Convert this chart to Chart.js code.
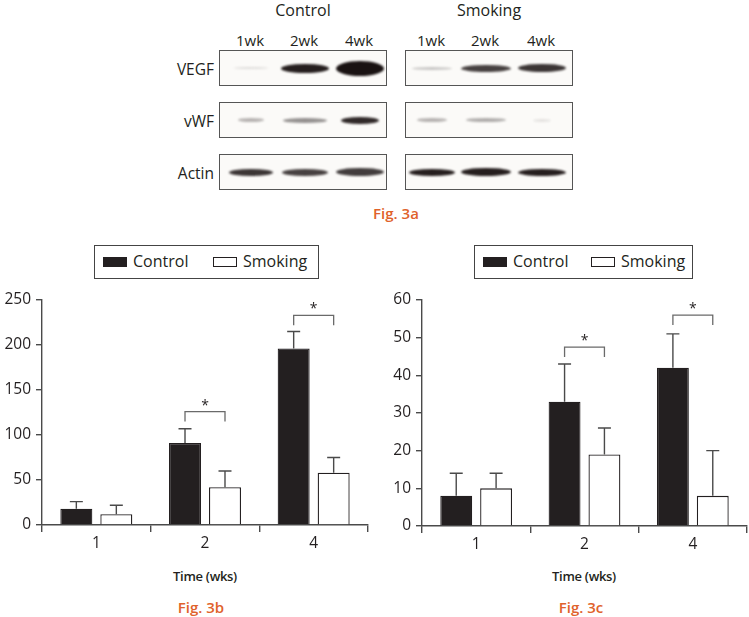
<!DOCTYPE html>
<html><head><meta charset="utf-8">
<script src="https://cdn.jsdelivr.net/npm/chart.js@4.4.1/dist/chart.umd.min.js"></script>
<style>
html,body{margin:0;padding:0;background:#fff;}
body{width:749px;height:617px;position:relative;overflow:hidden;font-family:"Open Sans",sans-serif;color:#231f20;}
.abs{position:absolute;}
.panel{position:absolute;border:1.4px solid #555;background:#fbfaf8;box-sizing:border-box;overflow:hidden;}
.band{position:absolute;border-radius:50%;filter:blur(1.3px);}
.lbl{position:absolute;white-space:nowrap;transform:translate(-50%,-50%);}
.legend{position:absolute;border:1.3px solid #444;box-sizing:border-box;}
.sw{position:absolute;width:24px;height:10px;box-sizing:border-box;border:1.2px solid #231f20;}
.lt{position:absolute;font-size:16px;line-height:16px;}
.fig{position:absolute;transform:translate(-50%,-50%);color:#e0622b;font-weight:600;font-size:15px;white-space:nowrap;}
.xt{position:absolute;transform:translate(-50%,-50%);font-weight:600;font-size:13px;white-space:nowrap;color:#231f20;letter-spacing:-0.3px;}
canvas{position:absolute;}
</style>
</head><body>
<div id="blots"></div>
<div class="fig" style="left:396px;top:213px;">Fig. 3a</div>

<div class="legend" style="left:94px;top:245px;width:225px;height:34px;"></div>
<div class="sw" style="left:103px;top:257px;background:#231f20;"></div>
<div class="lt" style="left:133px;top:253px;">Control</div>
<div class="sw" style="left:213px;top:257px;background:#fff;"></div>
<div class="lt" style="left:243px;top:253px;">Smoking</div>

<div class="legend" style="left:474px;top:245px;width:219px;height:34px;"></div>
<div class="sw" style="left:483px;top:257px;background:#231f20;"></div>
<div class="lt" style="left:513px;top:253px;">Control</div>
<div class="sw" style="left:591px;top:257px;background:#fff;"></div>
<div class="lt" style="left:621px;top:253px;">Smoking</div>

<canvas id="cb" width="372" height="270" style="left:0;top:285px;"></canvas>
<canvas id="cc" width="369" height="271" style="left:380px;top:285px;"></canvas>

<div class="xt" style="left:205px;top:576px;">Time (wks)</div>
<div class="fig" style="left:201px;top:607px;">Fig. 3b</div>
<div class="xt" style="left:584px;top:576px;">Time (wks)</div>
<div class="fig" style="left:581px;top:607px;">Fig. 3c</div>

<script>
// ---- Data ----
const categories = ['1', '2', '4'];
const seriesNames = ['Control', 'Smoking'];

const b_control = [18, 91, 196];
const b_controlErr = [8, 16, 19];
const b_smoking = [12, 42, 58];
const b_smokingErr = [10, 18, 17];
const b_sig = [null, 126, 233];
const b_ticks = [0, 50, 100, 150, 200, 250];

const c_control = [8, 33, 42];
const c_controlErr = [6, 10, 9];
const c_smoking = [10, 19, 8];
const c_smokingErr = [4, 7, 12];
const c_sig = [null, 47.5, 56];
const c_ticks = [0, 10, 20, 30, 40, 50, 60];

// Western blot (Fig. 3a) band intensities
const blotRows = ['VEGF', 'vWF', 'Actin'];
const blotLanes = ['1wk', '2wk', '4wk'];
const blotGroups = ['Control', 'Smoking'];
const blotControl = [[0.12, 0.95, 1.0], [0.3, 0.45, 0.9], [0.85, 0.8, 0.82]];
const blotSmoking = [[0.22, 0.8, 0.85], [0.3, 0.33, 0.1], [0.95, 0.95, 0.95]];

// ---- Blot drawing (decorative image part) ----
(function () {
  const root = document.getElementById('blots');
  const panelX = [219, 405], panelW = [168, 168];
  const rowY = [50, 102, 154], rowH = 36;
  const laneX = [[31, 85, 140], [26, 80, 136]];
  const bandW = [[[34, 48, 48], [26, 44, 38], [44, 46, 48]], [[40, 50, 48], [30, 40, 18], [46, 50, 48]]];
  const bandH = [[[2, 9, 15], [4, 5, 7], [7, 7, 8]], [[3, 7, 8], [4, 4, 3], [7, 8, 7]]];
  const data = [blotControl, blotSmoking];
  let html = '';
  blotGroups.forEach((g, gi) => {
    html += `<div class="lbl" style="left:${panelX[gi] + 84}px;top:10px;font-size:16px;">${g}</div>`;
    blotLanes.forEach((l, li) => {
      html += `<div class="lbl" style="left:${panelX[gi] + laneX[gi][li]}px;top:40px;font-size:15px;">${l}</div>`;
    });
    blotRows.forEach((r, ri) => {
      let inner = '';
      blotLanes.forEach((l, li) => {
        const w = bandW[gi][ri][li], h = bandH[gi][ri][li];
        const a = data[gi][ri][li];
        inner += `<div class="band" style="left:${laneX[gi][li] - w / 2}px;top:${rowH / 2 - h / 2 - 1}px;width:${w}px;height:${h}px;background:rgba(25,18,18,${a});"></div>`;
      });
      html += `<div class="panel" style="left:${panelX[gi]}px;top:${rowY[ri]}px;width:${panelW[gi]}px;height:${rowH}px;">${inner}</div>`;
    });
  });
  blotRows.forEach((r, ri) => {
    html += `<div class="abs" style="right:${749 - 214}px;top:${rowY[ri] + 8}px;font-size:15.5px;">${r}</div>`;
  });
  root.innerHTML = html;
})();

// ---- Charts ----
const ink = '#231f20';
const axisCol = '#4a4a4a';

const errorBarPlugin = {
  id: 'errbars',
  afterDatasetsDraw(chart, args, opts) {
    const ctx = chart.ctx, y = chart.scales.y;
    ctx.save();
    ctx.strokeStyle = axisCol;
    ctx.lineWidth = 1.4;
    chart.data.datasets.forEach((ds, di) => {
      const meta = chart.getDatasetMeta(di);
      meta.data.forEach((el, i) => {
        const top = y.getPixelForValue(ds.data[i] + ds.errors[i]);
        ctx.beginPath();
        ctx.moveTo(el.x, el.y);
        ctx.lineTo(el.x, top);
        ctx.moveTo(el.x - 6.5, top);
        ctx.lineTo(el.x + 6.5, top);
        ctx.stroke();
      });
    });
    // significance brackets
    const sig = opts.sig || [];
    const m0 = chart.getDatasetMeta(0), m1 = chart.getDatasetMeta(1);
    sig.forEach((v, i) => {
      if (v == null) return;
      const py = y.getPixelForValue(v);
      const x0 = m0.data[i].x, x1 = m1.data[i].x;
      ctx.strokeStyle = '#6a6a6a';
      ctx.lineWidth = 1.3;
      ctx.beginPath();
      ctx.moveTo(x0, py + 10);
      ctx.lineTo(x0, py);
      ctx.lineTo(x1, py);
      ctx.lineTo(x1, py + 10);
      ctx.stroke();
      ctx.fillStyle = ink;
      ctx.font = '14px "Open Sans"';
      ctx.textAlign = 'center';
      ctx.textBaseline = 'middle';
      ctx.fillText('*', (x0 + x1) / 2, py - 6);
    });
    ctx.restore();
  }
};

function makeChart(id, control, controlErr, smoking, smokingErr, sig, ticks, padRight) {
  const maxV = ticks[ticks.length - 1];
  const step = ticks[1] - ticks[0];
  return new Chart(document.getElementById(id), {
    type: 'bar',
    data: {
      labels: categories,
      datasets: [
        { label: seriesNames[0], data: control, errors: controlErr, backgroundColor: ink, borderColor: ink, borderWidth: 1.2 },
        { label: seriesNames[1], data: smoking, errors: smokingErr, backgroundColor: '#ffffff', borderColor: ink, borderWidth: 1.3 }
      ]
    },
    plugins: [errorBarPlugin],
    options: {
      responsive: false,
      animation: false,
      devicePixelRatio: 1,
      categoryPercentage: 0.736,
      barPercentage: 0.8,
      layout: { padding: { top: 15, right: padRight, left: 0, bottom: 0 } },
      plugins: { legend: { display: false }, tooltip: { enabled: false }, errbars: { sig: sig } },
      scales: {
        x: {
          grid: { display: true, drawOnChartArea: false, drawTicks: true, tickLength: 7, color: axisCol, lineWidth: 1.4, offset: true },
          border: { display: true, color: axisCol, width: 1.4 },
          ticks: { color: ink, font: { family: 'Open Sans', size: 15.5 }, padding: 2 },
          afterFit(s) { s.height = 30; }
        },
        y: {
          min: 0, max: maxV,
          afterBuildTicks(s) { s.ticks = ticks.map(v => ({ value: v })); },
          grid: { display: true, drawOnChartArea: false, drawTicks: true, tickLength: 6, color: axisCol, lineWidth: 1.4 },
          border: { display: true, color: axisCol, width: 1.4 },
          ticks: { color: ink, font: { family: 'Open Sans', size: 15.5 }, padding: 5, stepSize: step },
          afterFit(s) { s.width = 42; }
        }
      }
    }
  });
}

makeChart('cb', b_control, b_controlErr, b_smoking, b_smokingErr, b_sig, b_ticks, 4);
makeChart('cc', c_control, c_controlErr, c_smoking, c_smokingErr, c_sig, c_ticks, 2);
</script>
</body></html>
